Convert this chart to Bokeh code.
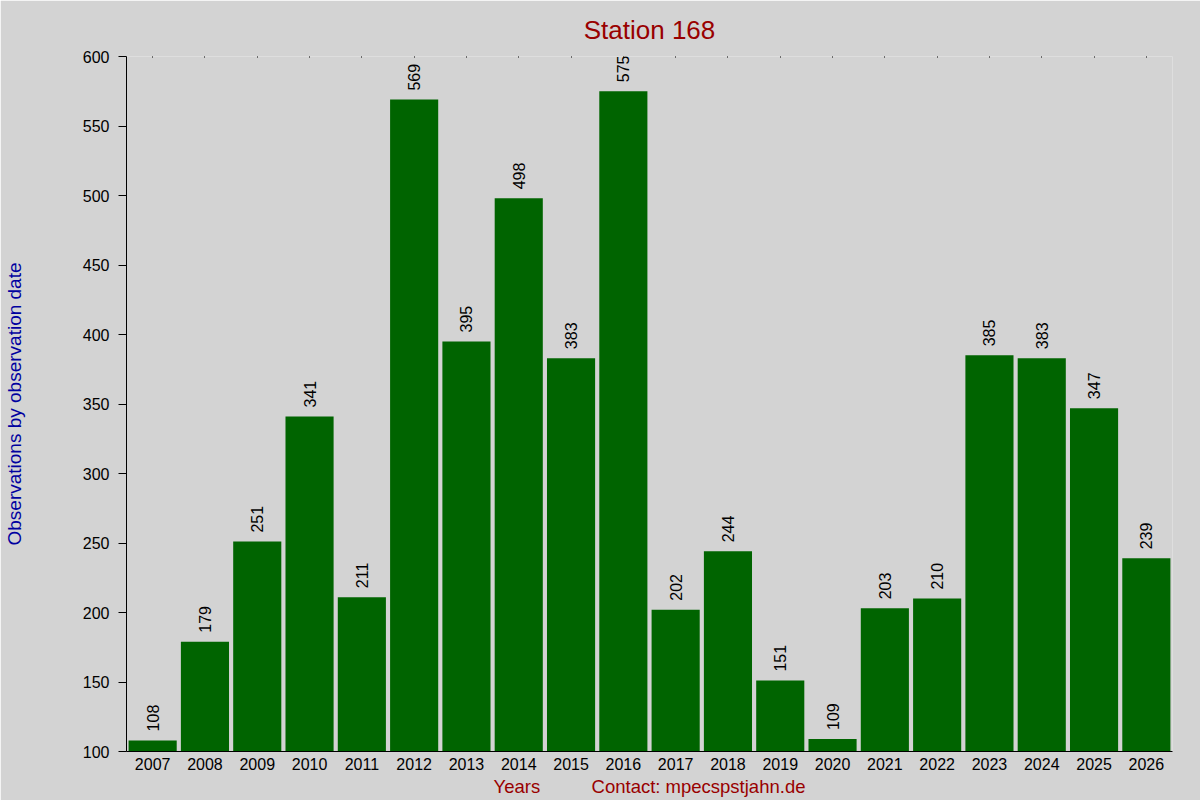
from bokeh.plotting import figure
from bokeh.models import ColumnDataSource, FixedTicker, Range1d, CategoricalAxis
from bokeh.core.properties import value
from bokeh.embed import file_html
from bokeh.resources import INLINE

# Station 168 - observations per year
years = ["2007", "2008", "2009", "2010", "2011", "2012", "2013", "2014", "2015", "2016",
         "2017", "2018", "2019", "2020", "2021", "2022", "2023", "2024", "2025", "2026"]
counts = [108, 179, 251, 341, 211, 569, 395, 498, 383, 575,
          202, 244, 151, 109, 203, 210, 385, 383, 347, 239]
y_ticks = [100, 150, 200, 250, 300, 350, 400, 450, 500, 550, 600]

BG = "#d3d3d3"
GREEN = "#006400"
DARKRED = "#990000"
BLUE = "#0000a0"
FONT = "Liberation Sans"

src = ColumnDataSource(data=dict(year=years, count=counts,
                                 label=[str(c) for c in counts]))

p = figure(x_range=years, y_range=Range1d(y_ticks[0], y_ticks[-1]),
           width=1200, height=800,
           output_backend="svg", toolbar_location=None, title="Station 168",
           min_border_left=126, min_border_right=28,
           min_border_top=56, min_border_bottom=49)
p.background_fill_color = BG
p.border_fill_color = BG
p.outline_line_color = None
p.grid.visible = False

p.title.align = "center"
p.title.text_font = FONT
p.title.text_font_size = "26px"
p.title.text_font_style = "normal"
p.title.text_color = DARKRED
p.title.standoff = 23

p.vbar(x="year", top="count", bottom=y_ticks[0], width=0.92, source=src,
       fill_color=GREEN, line_color=None)
p.text(x="year", y="count", text="label", source=src, angle=1.5708,
       text_align="left", text_baseline="middle", y_offset=-9,
       text_font=value(FONT), text_font_size="16px", text_color="black")

# y axis
p.yaxis.ticker = FixedTicker(ticks=y_ticks)
p.yaxis.major_tick_out = 8
p.yaxis.major_tick_in = 0
p.yaxis.minor_tick_line_color = None
p.yaxis.major_label_standoff = 9
p.yaxis.major_label_text_font = FONT
p.yaxis.major_label_text_font_size = "16px"
p.yaxis.major_label_text_color = "black"
p.yaxis.axis_label = "Observations by observation date"
p.yaxis.axis_label_text_font = FONT
p.yaxis.axis_label_text_font_size = "19px"
p.yaxis.axis_label_text_font_style = "normal"
p.yaxis.axis_label_text_color = BLUE
p.yaxis.axis_label_standoff = 55

# bottom x axis
xb = p.below[0]
xb.major_tick_line_color = None
xb.major_tick_out = 0
xb.major_tick_in = 0
xb.major_label_standoff = 6
xb.major_label_text_font = FONT
xb.major_label_text_font_size = "16px"
xb.major_label_text_color = "black"
xb.axis_label = "Years" + "\u00a0" * 10 + "Contact: mpecspstjahn.de"
xb.axis_label_text_font = FONT
xb.axis_label_text_font_size = "18.5px"
xb.axis_label_text_font_style = "normal"
xb.axis_label_text_color = DARKRED
xb.axis_label_standoff = 3

# top axis: only the little tick dots along the top edge
top = CategoricalAxis(axis_line_color=None, major_tick_in=1, major_tick_out=0,
                      major_tick_line_color="black", major_label_standoff=0,
                      major_label_text_color=None)
p.add_layout(top, "above")

open("out.html", "w").write(file_html(p, INLINE))
